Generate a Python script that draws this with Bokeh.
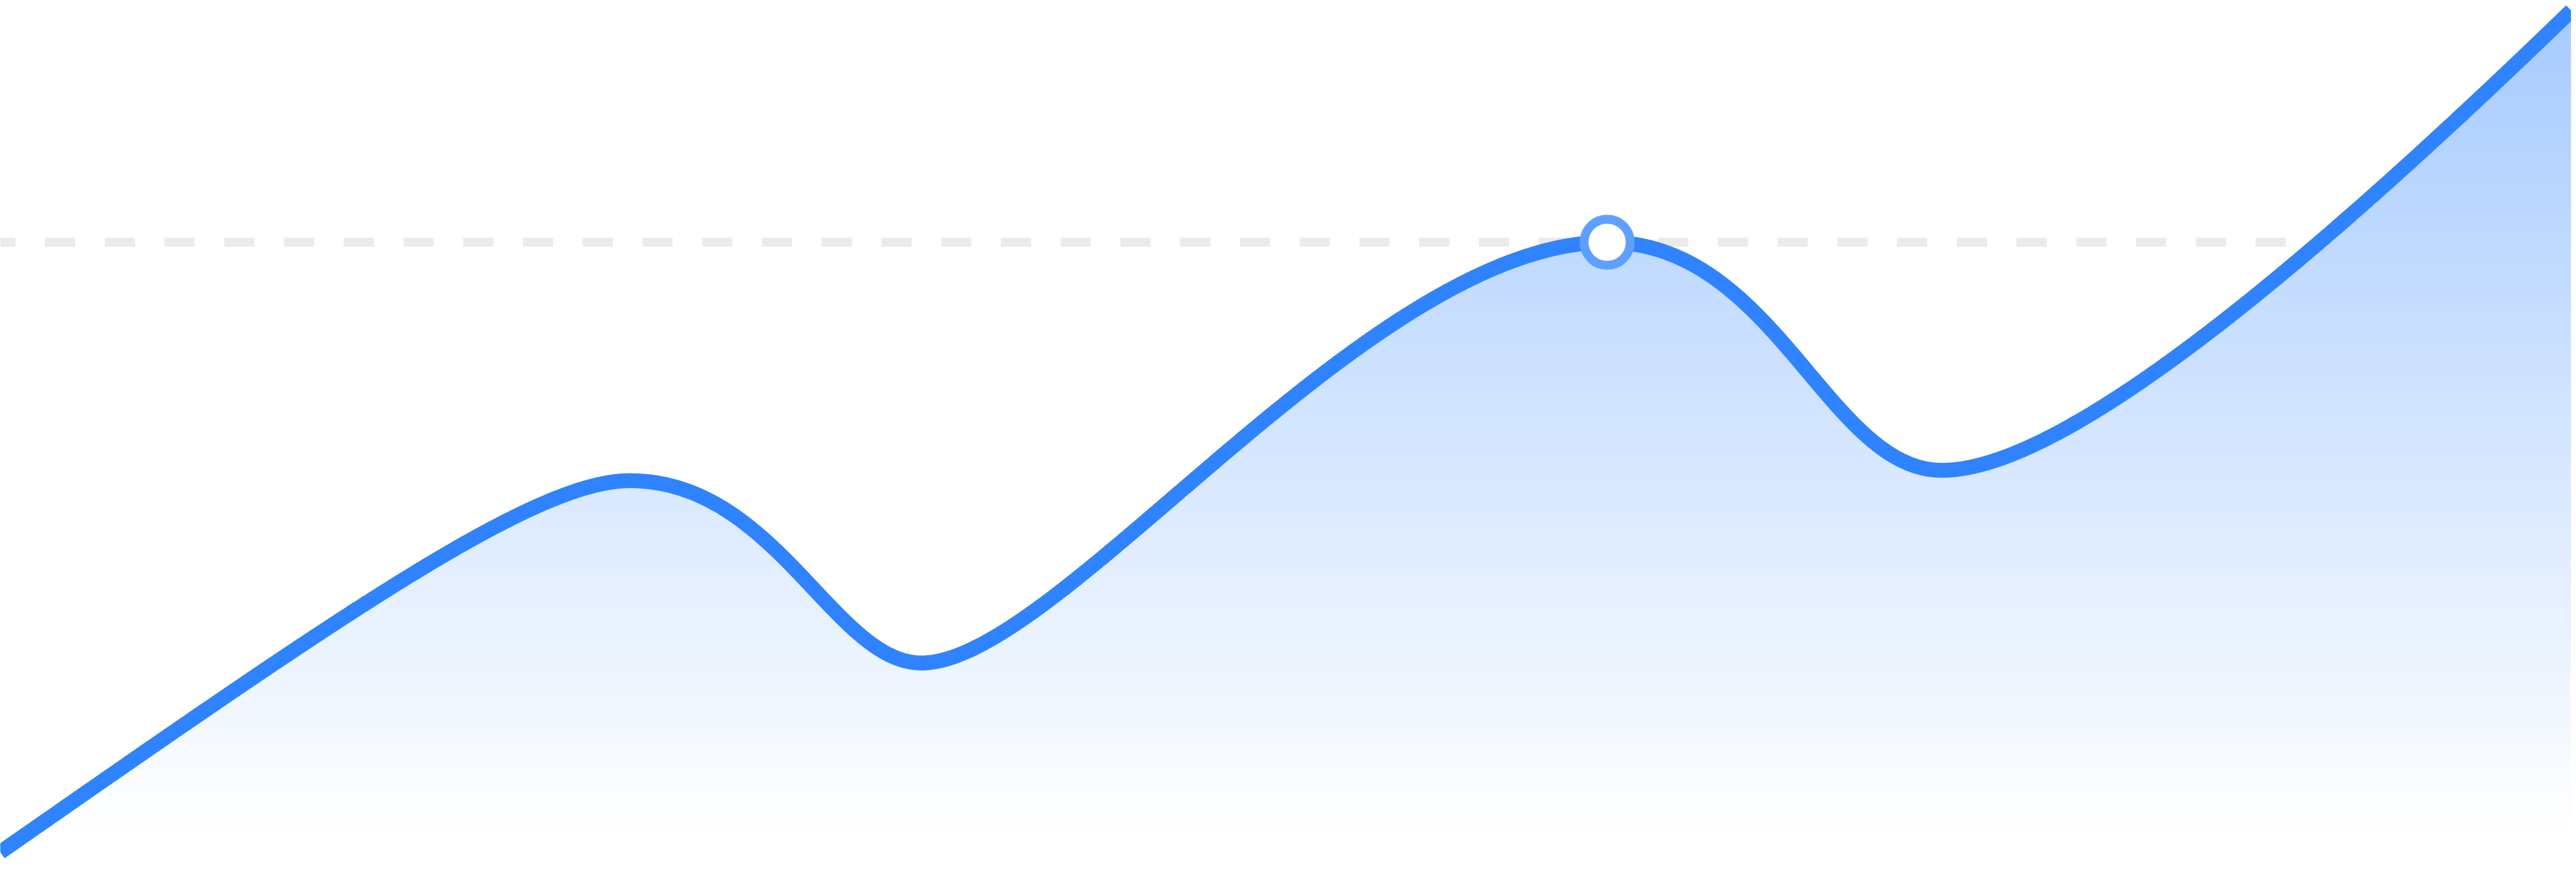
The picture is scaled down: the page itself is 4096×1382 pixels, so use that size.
import numpy as np
from bokeh.plotting import figure
from bokeh.models import Span
from bokeh.embed import file_html
from bokeh.resources import INLINE

# ---- data: anchor points of the smooth curve ----
x_vals = [0.0, 23.5, 34.4, 60.0, 72.5, 96.0]
y_vals = [1.4, 44.4, 23.3, 72.0, 45.6, 98.8]
highlight_index = 3           # highlighted point (x=60, y=72)
start_slope = 2.16            # slope of the curve where it enters at the left edge
end_slope = 3.0               # slope of the curve where it leaves at the right edge
# curve shape: handle lengths (fraction of each segment's width)
handle_out = [0.55, 0.5, 0.2, 0.5, 0.2]
handle_in = [0.15, 0.3, 0.35, 0.34, 0.4]

x_min, x_max = 0.0, 96.0
y_min, y_max = 0.0, 100.0

LINE_COLOR = "#2f83ff"
MARKER_COLOR = "#5ea0ff"
DASH_COLOR = "#ebebeb"

W, H = 4088, 1374
S = W / 6912.0


def bezier_path(xa, ya, n_per=400):
    n = len(xa)
    slopes = [start_slope] + [0.0] * (n - 2) + [end_slope]
    t = np.linspace(0, 1, n_per)
    b0, b1, b2, b3 = (1 - t) ** 3, 3 * t * (1 - t) ** 2, 3 * t**2 * (1 - t), t**3
    X, Y = [], []
    for i in range(n - 1):
        w = xa[i + 1] - xa[i]
        p0 = (xa[i], ya[i])
        p1 = (xa[i] + handle_out[i] * w, ya[i] + slopes[i] * handle_out[i] * w)
        p2 = (xa[i + 1] - handle_in[i] * w, ya[i + 1] - slopes[i + 1] * handle_in[i] * w)
        p3 = (xa[i + 1], ya[i + 1])
        bx = b0 * p0[0] + b1 * p1[0] + b2 * p2[0] + b3 * p3[0]
        by = b0 * p0[1] + b1 * p1[1] + b2 * p2[1] + b3 * p3[1]
        if i > 0:
            bx, by = bx[1:], by[1:]
        X.append(bx)
        Y.append(by)
    return np.concatenate(X), np.concatenate(Y)


xs, ys = bezier_path(x_vals, y_vals)

p = figure(width=W, height=H, x_range=(x_min, x_max), y_range=(y_min, y_max),
           x_axis_type=None, y_axis_type=None, toolbar_location=None,
           output_backend="svg", min_border=0)
p.outline_line_color = None
p.background_fill_color = "white"
p.border_fill_color = "white"
p.grid.visible = False

# dashed reference line at the highlighted value
span = Span(location=y_vals[highlight_index], dimension="width", line_color=DASH_COLOR,
            line_width=24 * S, line_dash="48 47", line_dash_offset=24, level="underlay")
p.add_layout(span)

# vertical gradient fill under the curve, as stacked bands
blue = np.array([47, 131, 255], float)
levels = np.linspace(y_min, y_max, 121)
for lo, hi in zip(levels[:-1], levels[1:]):
    if np.all(ys <= lo):
        continue
    mid = 0.5 * (lo + hi)
    frac_from_top = (y_max - mid) / (y_max - y_min)
    a = 0.43 * max(0.0, 1 - frac_from_top * 2332 / 2250)
    c = 255 - a * (255 - blue)
    col = "#%02x%02x%02x" % tuple(int(round(v)) for v in c)
    y1 = np.minimum(ys, lo)
    y2 = np.minimum(ys, hi + 0.35)
    p.varea(x=xs, y1=y1, y2=y2, fill_color=col)

p.line(xs, ys, line_color=LINE_COLOR, line_width=40 * S, line_join="round")

p.scatter([x_vals[highlight_index]], [y_vals[highlight_index]], marker="circle",
          size=124 * S, fill_color="white", line_color=MARKER_COLOR, line_width=24 * S)

open("out.html", "w").write(file_html(p, INLINE))
